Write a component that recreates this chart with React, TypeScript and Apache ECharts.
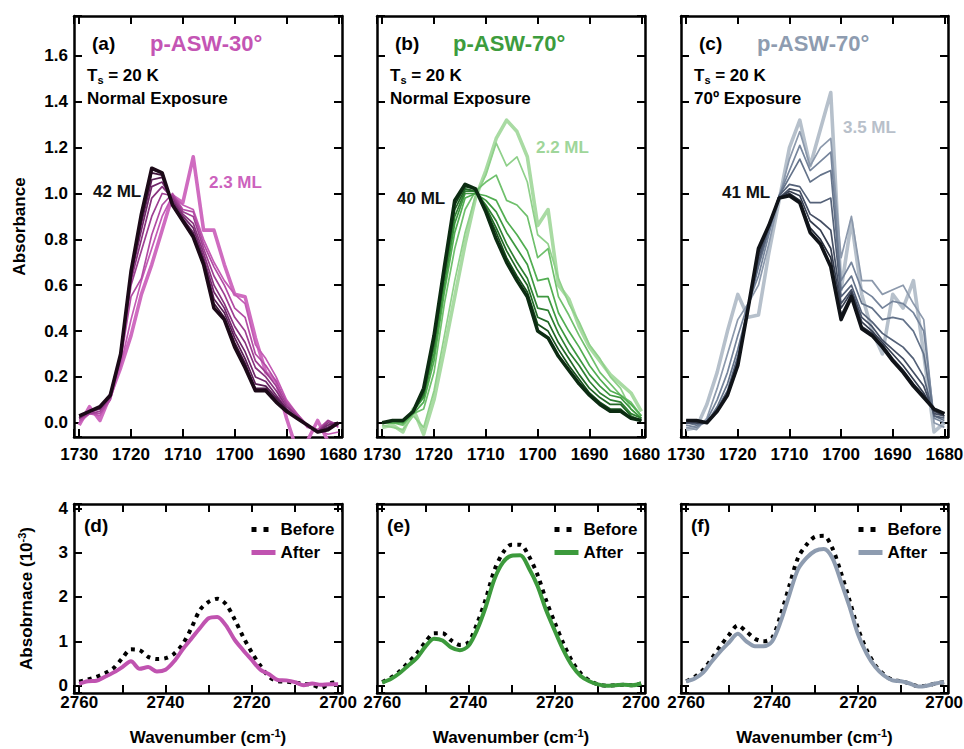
import React, { useEffect, useRef } from "react";
import * as echarts from "echarts";

const FONT = '"Liberation Sans", Arial, Helvetica, sans-serif';

// Wavenumber grids (cm^-1)
const CO_WAVENUMBER = [1730, 1728, 1726, 1724, 1722, 1720, 1718, 1716, 1714, 1712, 1710, 1708, 1706, 1704, 1702, 1700, 1698, 1696, 1694, 1692, 1690, 1688, 1686, 1684, 1682, 1680];
const OD_WAVENUMBER = [2760, 2758, 2756, 2754, 2752, 2750, 2748, 2746, 2744, 2742, 2740, 2738, 2736, 2734, 2732, 2730, 2728, 2726, 2724, 2722, 2720, 2718, 2716, 2714, 2712, 2710, 2708, 2706, 2704, 2702, 2700];

// (a) p-ASW-30°, normal exposure: thinnest (2.3 ML) to thickest (42 ML)
const A_2P3ML = [-0.01, 0.07, 0.01, 0.12, 0.24, 0.38, 0.56, 0.69, 0.84, 0.99, 0.96, 1.16, 0.84, 0.84, 0.69, 0.56, 0.55, 0.37, 0.22, 0.18, 0.02, -0.12, -0.08, 0.01, -0.08, -0.10];
const A_STEP1 = [0.00, 0.04, 0.03, 0.10, 0.25, 0.45, 0.62, 0.76, 0.90, 0.99, 0.95, 0.93, 0.80, 0.70, 0.62, 0.56, 0.52, 0.34, 0.28, 0.20, 0.10, 0.04, -0.02, -0.03, -0.05, -0.04];
const A_STEP2 = [0.01, 0.04, 0.04, 0.10, 0.27, 0.55, 0.63, 0.82, 0.95, 1.00, 0.93, 0.92, 0.78, 0.68, 0.60, 0.50, 0.46, 0.30, 0.25, 0.18, 0.09, 0.04, -0.01, -0.03, 0.01, -0.02];
const A_STEP3 = [0.02, 0.04, 0.05, 0.11, 0.28, 0.60, 0.75, 0.90, 1.00, 0.99, 0.92, 0.90, 0.76, 0.64, 0.56, 0.46, 0.40, 0.27, 0.22, 0.16, 0.08, 0.03, -0.01, -0.04, 0.01, -0.01];
const A_STEP4 = [0.02, 0.05, 0.06, 0.11, 0.29, 0.62, 0.80, 0.98, 1.03, 0.98, 0.91, 0.87, 0.74, 0.60, 0.52, 0.42, 0.35, 0.24, 0.20, 0.14, 0.07, 0.03, -0.01, -0.04, 0.00, -0.01];
const A_STEP5 = [0.02, 0.05, 0.06, 0.12, 0.29, 0.64, 0.84, 1.03, 1.05, 0.97, 0.90, 0.85, 0.72, 0.57, 0.50, 0.39, 0.31, 0.20, 0.18, 0.12, 0.06, 0.02, -0.01, -0.04, -0.01, 0.00];
const A_STEP6 = [0.03, 0.05, 0.07, 0.12, 0.30, 0.65, 0.87, 1.06, 1.07, 0.96, 0.89, 0.83, 0.71, 0.54, 0.48, 0.37, 0.28, 0.17, 0.16, 0.11, 0.06, 0.02, -0.01, -0.04, -0.02, 0.00];
const A_STEP7 = [0.03, 0.05, 0.07, 0.12, 0.30, 0.66, 0.89, 1.09, 1.08, 0.95, 0.88, 0.82, 0.70, 0.52, 0.46, 0.35, 0.26, 0.15, 0.15, 0.10, 0.05, 0.02, -0.01, -0.04, -0.03, 0.00];
const A_42ML = [0.03, 0.05, 0.07, 0.12, 0.30, 0.66, 0.91, 1.11, 1.09, 0.95, 0.88, 0.81, 0.69, 0.50, 0.45, 0.33, 0.24, 0.14, 0.14, 0.09, 0.05, 0.02, -0.01, -0.04, -0.03, 0.00];

// (b) p-ASW-70°, normal exposure: 2.2 ML to 40 ML
const B_2P2ML = [-0.02, -0.01, -0.04, 0.06, -0.05, 0.10, 0.32, 0.55, 0.78, 0.98, 1.10, 1.24, 1.32, 1.27, 1.16, 0.86, 0.93, 0.60, 0.54, 0.42, 0.33, 0.27, 0.21, 0.17, 0.13, 0.05];
const B_STEP1 = [-0.01, -0.02, -0.03, 0.03, -0.02, 0.14, 0.38, 0.62, 0.83, 0.99, 1.08, 1.22, 1.12, 1.16, 1.05, 0.82, 0.78, 0.63, 0.52, 0.44, 0.34, 0.28, 0.20, 0.15, 0.06, 0.02];
const B_STEP2 = [0.00, 0.00, -0.01, 0.04, 0.06, 0.22, 0.52, 0.76, 0.93, 1.01, 1.05, 1.08, 0.97, 0.95, 0.90, 0.72, 0.76, 0.55, 0.47, 0.38, 0.30, 0.22, 0.17, 0.12, 0.09, 0.03];
const B_STEP3 = [0.00, 0.00, 0.00, 0.04, 0.09, 0.27, 0.57, 0.83, 0.98, 1.00, 0.99, 0.97, 0.88, 0.82, 0.75, 0.62, 0.63, 0.48, 0.40, 0.33, 0.25, 0.19, 0.14, 0.12, 0.08, 0.03];
const B_STEP4 = [0.00, 0.01, 0.00, 0.05, 0.11, 0.30, 0.60, 0.87, 1.00, 1.00, 0.97, 0.92, 0.83, 0.76, 0.69, 0.55, 0.55, 0.43, 0.35, 0.28, 0.21, 0.16, 0.12, 0.11, 0.06, 0.02];
const B_STEP5 = [0.00, 0.01, 0.01, 0.05, 0.12, 0.33, 0.63, 0.90, 1.01, 1.01, 0.95, 0.88, 0.78, 0.70, 0.63, 0.50, 0.49, 0.39, 0.31, 0.25, 0.18, 0.13, 0.10, 0.09, 0.04, 0.02];
const B_STEP6 = [0.00, 0.01, 0.01, 0.05, 0.13, 0.35, 0.65, 0.93, 1.02, 1.01, 0.94, 0.85, 0.75, 0.67, 0.60, 0.46, 0.44, 0.35, 0.28, 0.21, 0.15, 0.11, 0.08, 0.08, 0.03, 0.01];
const B_STEP7 = [0.00, 0.01, 0.01, 0.05, 0.14, 0.37, 0.67, 0.95, 1.03, 1.02, 0.93, 0.83, 0.72, 0.64, 0.57, 0.43, 0.40, 0.32, 0.25, 0.19, 0.13, 0.09, 0.06, 0.06, 0.02, 0.01];
const B_40ML = [0.00, 0.01, 0.01, 0.05, 0.15, 0.38, 0.68, 0.97, 1.04, 1.02, 0.92, 0.80, 0.70, 0.62, 0.55, 0.40, 0.37, 0.29, 0.23, 0.17, 0.12, 0.08, 0.05, 0.05, 0.02, 0.01];

// (c) p-ASW-70°, 70° exposure: 3.5 ML to 41 ML
const C_3P5ML = [-0.03, -0.02, 0.08, 0.22, 0.40, 0.56, 0.46, 0.47, 0.74, 0.97, 1.20, 1.32, 1.12, 1.28, 1.44, 0.58, 0.88, 0.56, 0.40, 0.30, 0.56, 0.50, 0.62, 0.30, -0.04, 0.00];
const C_STEP1 = [-0.02, -0.03, 0.02, 0.15, 0.30, 0.45, 0.52, 0.60, 0.78, 0.98, 1.15, 1.27, 1.12, 1.20, 1.24, 0.72, 0.90, 0.62, 0.62, 0.56, 0.58, 0.60, 0.52, 0.45, 0.00, -0.02];
const C_STEP2 = [-0.01, -0.02, 0.01, 0.10, 0.22, 0.38, 0.52, 0.64, 0.82, 0.99, 1.10, 1.21, 1.10, 1.14, 1.18, 0.62, 0.70, 0.58, 0.55, 0.50, 0.53, 0.52, 0.48, 0.40, 0.02, 0.00];
const C_STEP3 = [0.00, -0.01, 0.00, 0.07, 0.17, 0.32, 0.50, 0.68, 0.84, 0.99, 1.07, 1.15, 1.05, 1.08, 1.10, 0.58, 0.64, 0.52, 0.50, 0.45, 0.46, 0.45, 0.40, 0.30, 0.03, 0.01];
const C_STEP4 = [0.00, 0.00, 0.00, 0.06, 0.14, 0.29, 0.50, 0.70, 0.85, 0.99, 1.04, 1.03, 0.96, 0.96, 0.98, 0.55, 0.60, 0.48, 0.44, 0.39, 0.36, 0.33, 0.28, 0.20, 0.03, 0.02];
const C_STEP5 = [0.00, 0.00, 0.00, 0.05, 0.13, 0.27, 0.50, 0.72, 0.86, 0.98, 1.02, 1.01, 0.91, 0.88, 0.84, 0.52, 0.58, 0.46, 0.42, 0.36, 0.32, 0.28, 0.22, 0.16, 0.04, 0.03];
const C_STEP6 = [0.01, 0.00, 0.00, 0.05, 0.12, 0.26, 0.50, 0.74, 0.86, 0.98, 1.01, 0.99, 0.88, 0.84, 0.76, 0.50, 0.57, 0.44, 0.40, 0.35, 0.30, 0.25, 0.19, 0.13, 0.05, 0.03];
const C_STEP7 = [0.01, 0.01, 0.00, 0.05, 0.12, 0.25, 0.50, 0.75, 0.86, 0.98, 1.00, 0.97, 0.85, 0.80, 0.72, 0.47, 0.56, 0.42, 0.39, 0.34, 0.28, 0.23, 0.17, 0.12, 0.06, 0.04];
const C_41ML = [0.01, 0.01, 0.00, 0.05, 0.12, 0.25, 0.50, 0.76, 0.86, 0.98, 0.99, 0.96, 0.83, 0.78, 0.68, 0.45, 0.55, 0.41, 0.38, 0.33, 0.27, 0.22, 0.16, 0.11, 0.06, 0.04];

// (d)-(f) OD stretch before / after exposure (10^-3)
const D_BEFORE = [0.09, 0.14, 0.20, 0.28, 0.40, 0.62, 0.82, 0.80, 0.65, 0.60, 0.62, 0.72, 0.94, 1.30, 1.71, 1.89, 1.96, 1.84, 1.50, 1.10, 0.75, 0.45, 0.20, 0.10, 0.09, 0.07, 0.04, 0.02, -0.05, 0.05, 0.08];
const D_AFTER = [0.04, 0.10, 0.11, 0.20, 0.30, 0.42, 0.55, 0.38, 0.42, 0.32, 0.36, 0.55, 0.82, 1.06, 1.30, 1.52, 1.55, 1.36, 1.04, 0.80, 0.58, 0.36, 0.26, 0.13, 0.12, 0.08, 0.01, 0.05, 0.02, 0.03, 0.03];
const E_BEFORE = [0.08, 0.18, 0.32, 0.52, 0.72, 0.98, 1.18, 1.18, 1.02, 0.92, 0.98, 1.40, 1.95, 2.60, 3.00, 3.18, 3.18, 2.92, 2.50, 1.92, 1.42, 0.95, 0.55, 0.28, 0.12, 0.03, 0.00, 0.01, 0.02, 0.01, 0.05];
const E_AFTER = [0.07, 0.15, 0.28, 0.45, 0.62, 0.88, 1.06, 1.02, 0.86, 0.80, 0.90, 1.26, 1.78, 2.40, 2.78, 2.93, 2.94, 2.65, 2.25, 1.70, 1.24, 0.80, 0.45, 0.22, 0.10, 0.03, 0.00, 0.01, 0.02, 0.01, 0.05];
const F_BEFORE = [0.10, 0.20, 0.36, 0.62, 0.90, 1.15, 1.36, 1.22, 1.06, 1.00, 1.08, 1.60, 2.25, 2.88, 3.18, 3.36, 3.38, 3.10, 2.55, 1.92, 1.28, 0.80, 0.46, 0.25, 0.13, 0.10, 0.05, -0.01, 0.00, 0.05, 0.08];
const F_AFTER = [0.09, 0.16, 0.30, 0.55, 0.78, 0.98, 1.17, 1.00, 0.89, 0.89, 1.00, 1.45, 2.05, 2.62, 2.88, 3.04, 3.08, 2.88, 2.35, 1.78, 1.15, 0.72, 0.42, 0.23, 0.12, 0.10, 0.05, -0.02, 0.00, 0.05, 0.08];

const A_CURVES = [A_2P3ML, A_STEP1, A_STEP2, A_STEP3, A_STEP4, A_STEP5, A_STEP6, A_STEP7, A_42ML];
const B_CURVES = [B_2P2ML, B_STEP1, B_STEP2, B_STEP3, B_STEP4, B_STEP5, B_STEP6, B_STEP7, B_40ML];
const C_CURVES = [C_3P5ML, C_STEP1, C_STEP2, C_STEP3, C_STEP4, C_STEP5, C_STEP6, C_STEP7, C_41ML];

const A_COLORS = ["#cf6cc0", "#c35ab4", "#b24ca4", "#9e3f92", "#88337e", "#70286a", "#581e54", "#40143c", "#1c0a18"];
const B_COLORS = ["#a9dba3", "#8fd08a", "#6fc06c", "#52ae52", "#3e9840", "#2f8032", "#226826", "#17501c", "#0c2c12"];
const C_COLORS = ["#b6c0cb", "#8c99ac", "#76859c", "#64738a", "#546178", "#454f64", "#363e50", "#262c3a", "#101318"];
const AFTER_COLORS = ["#c053b0", "#3c9a3c", "#8e9cb0"];
const TITLE_COLORS = ["#c455b4", "#3d9c3d", "#8e9cb0"];

const TOP_TITLES = ["p-ASW-30°", "p-ASW-70°", "p-ASW-70°"];
const TOP_TAGS = ["(a)", "(b)", "(c)"];
const BOTTOM_TAGS = ["(d)", "(e)", "(f)"];
const EXPOSURES = ["Normal Exposure", "Normal Exposure", "70º Exposure"];
const THICK_LABELS = ["42 ML", "40 ML", "41 ML"];
const THIN_LABELS = ["2.3 ML", "2.2 ML", "3.5 ML"];

const GRID_LEFT = [74, 377, 681];
const GRID_WIDTH = [268, 268, 267];

const onStep = (v: number, step: number) => {
  const k = v / step;
  return Math.abs(k - Math.round(k)) < 1e-6;
};

const labelStyle = { fontSize: 17, fontWeight: "bold", color: "#000", fontFamily: FONT };

function frameAxis(gridIndex: number, min: number, max: number, step: number, extra: any) {
  return {
    type: "value",
    gridIndex,
    min,
    max,
    minInterval: step,
    maxInterval: step,
    splitLine: { show: false },
    axisLine: { show: true, onZero: false, lineStyle: { color: "#000", width: 2.5 } },
    axisTick: { show: true, inside: true, length: 8, lineStyle: { color: "#000", width: 2 } },
    ...extra,
  };
}

function buildOption() {
  const grid: any[] = [];
  const xAxis: any[] = [];
  const yAxis: any[] = [];
  const series: any[] = [];
  const graphic: any[] = [];

  const supRich = {
    sup: { fontSize: 11, fontWeight: "bold", fontFamily: FONT, color: "#000", lineHeight: 12, verticalAlign: "top" },
  };

  for (let p = 0; p < 6; p++) {
    const col = p % 3;
    const top = p < 3;
    grid.push({
      left: GRID_LEFT[col],
      top: top ? 16 : 504,
      width: GRID_WIDTH[col],
      height: top ? 421 : 189,
      containLabel: false,
      outerBoundsMode: "none",
    });
    const xr = top ? { min: 1679.3, max: 1731, step: 10 } : { min: 2699.1, max: 2761.2, step: 10 };
    const yr = top ? { min: -0.062, max: 1.774, step: 0.2 } : { min: -0.165, max: 4.097, step: 1 };

    const xLabel = top
      ? (v: number) => (onStep(v, 10) ? String(Math.round(v)) : "")
      : (v: number) => (onStep(v, 20) ? String(Math.round(v)) : "");
    const yLabel = top
      ? (v: number) => (onStep(v, 0.2) && v > -1e-9 ? v.toFixed(1) : "")
      : (v: number) => (onStep(v, 1) && v > -1e-9 ? String(Math.round(v)) : "");

    xAxis.push(
      frameAxis(p, xr.min, xr.max, xr.step, {
        inverse: true,
        position: "bottom",
        axisLabel: { ...labelStyle, formatter: xLabel, margin: top ? 9 : 1 },
        ...(top
          ? {}
          : {
              name: "Wavenumber (cm{sup|-1})",
              nameLocation: "middle",
              nameGap: 34,
              nameTextStyle: { ...labelStyle, lineHeight: 20, rich: supRich },
            }),
      })
    );
    xAxis.push(
      frameAxis(p, xr.min, xr.max, xr.step, {
        inverse: true,
        position: "top",
        axisLabel: { show: false },
      })
    );
    const leftExtra: any = {
      position: "left",
      axisLabel: { ...labelStyle, formatter: yLabel, margin: 6, show: col === 0 },
    };
    if (p === 0) {
      Object.assign(leftExtra, {
        name: "Absorbance",
        nameLocation: "middle",
        nameGap: 46,
        nameRotate: 90,
        nameTextStyle: { ...labelStyle },
      });
    }
    if (p === 3) {
      Object.assign(leftExtra, {
        name: "Absobrnace (10{sup|-3})",
        nameLocation: "middle",
        nameGap: 38,
        nameRotate: 90,
        nameTextStyle: { ...labelStyle, lineHeight: 20, rich: supRich },
      });
    }
    yAxis.push(frameAxis(p, yr.min, yr.max, yr.step, leftExtra));
    yAxis.push(frameAxis(p, yr.min, yr.max, yr.step, { position: "right", axisLabel: { show: false } }));
  }

  const topSets = [
    { curves: A_CURVES, colors: A_COLORS },
    { curves: B_CURVES, colors: B_COLORS },
    { curves: C_CURVES, colors: C_COLORS },
  ];
  topSets.forEach((set, p) => {
    set.curves.forEach((curve, k) => {
      const thick = k === 0 || k === set.curves.length - 1;
      series.push({
        type: "line",
        xAxisIndex: 2 * p,
        yAxisIndex: 2 * p,
        data: CO_WAVENUMBER.map((w, i) => [w, curve[i]]),
        symbol: "none",
        showSymbol: false,
        silent: true,
        clip: true,
        lineStyle: { color: set.colors[k], width: thick ? 3.6 : 1.7, join: "round" },
        z: 2 + k,
      });
    });
  });

  const bottomSets = [
    { before: D_BEFORE, after: D_AFTER },
    { before: E_BEFORE, after: E_AFTER },
    { before: F_BEFORE, after: F_AFTER },
  ];
  bottomSets.forEach((set, i) => {
    const g = 3 + i;
    series.push({
      name: "Before",
      type: "line",
      xAxisIndex: 2 * g,
      yAxisIndex: 2 * g,
      data: OD_WAVENUMBER.map((w, j) => [w, set.before[j]]),
      symbol: "none",
      showSymbol: false,
      smooth: 0.3,
      silent: true,
      clip: true,
      lineStyle: { color: "#000", width: 4, type: [4, 5], cap: "butt" },
      z: 3,
    });
    series.push({
      name: "After",
      type: "line",
      xAxisIndex: 2 * g,
      yAxisIndex: 2 * g,
      data: OD_WAVENUMBER.map((w, j) => [w, set.after[j]]),
      symbol: "none",
      showSymbol: false,
      smooth: 0.3,
      silent: true,
      clip: true,
      lineStyle: { color: AFTER_COLORS[i], width: 4 },
      z: 4,
    });
  });

  const legend = [0, 1, 2].map((i) => ({
    show: true,
    selectedMode: false,
    orient: "vertical",
    left: GRID_LEFT[i] + 170,
    top: 516,
    itemWidth: 24,
    itemHeight: 14,
    itemGap: 6,
    textStyle: { fontSize: 17, fontWeight: "bold", color: "#000", fontFamily: FONT },
    itemStyle: { opacity: 0 },
    data: [
      { name: "Before", lineStyle: { color: "#000", width: 5, type: [5, 7] } },
      { name: "After", lineStyle: { color: AFTER_COLORS[i], width: 5, type: "solid" } },
    ],
  }));

  const txt = (x: number, y: number, text: string, size: number, fill: string, rich?: any) => ({
    type: "text",
    x,
    y,
    silent: true,
    z: 50,
    style: {
      text,
      fontSize: size,
      fontWeight: "bold",
      fontFamily: FONT,
      fill,
      align: "left",
      verticalAlign: "middle",
      lineHeight: 20,
      ...(rich ? { rich } : {}),
    },
  });

  const subRich = {
    sub: { fontSize: 11, fontWeight: "bold", fontFamily: FONT, fill: "#000", lineHeight: 12, verticalAlign: "bottom" },
  };

  const thickPos = [
    [93, 191],
    [397, 198],
    [722, 192],
  ];
  const thinPos = [
    [209, 182],
    [536, 147],
    [843, 127],
  ];
  const thinColors = ["#cc62bd", "#9fd69a", "#b8c0ca"];

  for (let i = 0; i < 3; i++) {
    const L = GRID_LEFT[i];
    graphic.push(txt(L + 18, 43, TOP_TAGS[i], 19, "#000"));
    graphic.push(txt(L + 76, 43, TOP_TITLES[i], 22, TITLE_COLORS[i]));
    graphic.push(txt(L + 13, 75, "T{sub|s} = 20 K", 17, "#000", subRich));
    graphic.push(txt(L + 13, 98, EXPOSURES[i], 17, "#000"));
    graphic.push(txt(thickPos[i][0], thickPos[i][1], THICK_LABELS[i], 17, "#111"));
    graphic.push(txt(thinPos[i][0], thinPos[i][1], THIN_LABELS[i], 17, thinColors[i]));
    graphic.push(txt(L + 10, 525, BOTTOM_TAGS[i], 19, "#000"));
  }

  return {
    animation: false,
    backgroundColor: "#fff",
    textStyle: { fontFamily: FONT },
    grid,
    xAxis,
    yAxis,
    series,
    legend,
    graphic,
  };
}

export default function App() {
  const ref = useRef<HTMLDivElement | null>(null);
  useEffect(() => {
    if (!ref.current) return;
    const chart = echarts.init(ref.current, undefined, { renderer: "svg" });
    chart.setOption(buildOption() as any);
    return () => chart.dispose();
  }, []);
  return (
    <div
      ref={ref}
      style={{ position: "absolute", left: 0, top: 0, width: 964, height: 749, background: "#fff" }}
    />
  );
}
